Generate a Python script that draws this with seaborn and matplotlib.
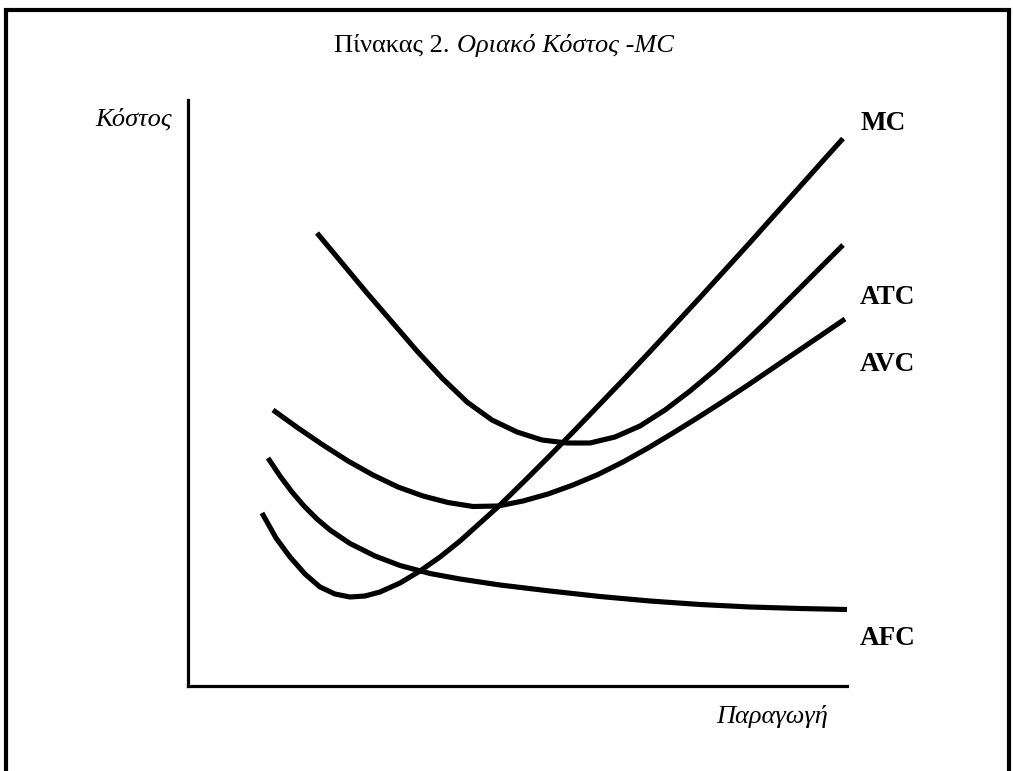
import numpy as np
import pandas as pd
import matplotlib
matplotlib.use("Agg")
import matplotlib.pyplot as plt
import seaborn as sns
from matplotlib.lines import Line2D

# Values (arbitrary units: quantity, cost)
mc_q = [74, 88, 102, 117, 132, 147, 162, 177, 192, 212, 232, 252, 272, 292, 312, 337, 362, 387, 412, 437, 462, 487, 512, 537, 562, 587, 612, 637, 655]
mc_c = [173, 148, 129, 112, 99, 92, 89, 90, 94, 103, 115, 129, 145, 163, 181, 205.5, 230.5, 256, 282, 308, 334.5, 361.5, 388.5, 416, 443.5, 471.5, 499.5, 527.5, 547.5]

atc_q = [129, 154, 179, 204, 229, 254, 279, 304, 329, 354, 379, 402, 427, 452, 477, 502, 527, 552, 577, 602, 627, 655]
atc_c = [453, 423, 393, 364, 335, 308, 284, 266, 254, 246, 243, 243, 249, 260, 276, 295, 316, 339, 363, 388, 413, 441]

avc_q = [85, 110, 135, 160, 185, 210, 235, 260, 285, 310, 335, 360, 385, 410, 435, 460, 485, 510, 535, 560, 585, 610, 635, 657]
avc_c = [276, 258, 241, 225, 211, 199, 190, 183.5, 179.5, 180, 185, 192, 201, 211.5, 224, 238, 253, 268.5, 284.5, 301, 318, 335, 352, 367]

afc_q = [80, 92, 104, 116, 129, 142, 162, 187, 212, 242, 272, 312, 362, 412, 462, 512, 562, 612, 659]
afc_c = [228, 210, 194, 180, 167, 156, 142.5, 130, 120.5, 112.5, 107, 101, 95, 89.5, 85, 81.5, 79, 77.5, 76.5]

curve_names = ["MC", "ATC", "AVC", "AFC"]
label_y = [556, 382, 315, 41]  # label baselines (cost units)

title_plain = "Πίνακας 2. "
title_italic = "Οριακό Κόστος -MC"
ylabel_text = "Κόστος"
xlabel_text = "Παραγωγή"

sns.set_theme(style="white")
plt.rcParams["font.family"] = ["Liberation Serif", "DejaVu Serif"]
plt.rcParams["text.color"] = "black"

W, H = 1013, 771
fig = plt.figure(figsize=(W / 100, H / 100), dpi=100)
fig.patch.set_facecolor("white")

ax_left, ax_right, ax_top, ax_bottom = 188, 847, 100, 686
ax = fig.add_axes([ax_left / W, 1 - ax_bottom / H, (ax_right - ax_left) / W, (ax_bottom - ax_top) / H])
ax.set_facecolor("white")

frames = []
for name, q, c in [("MC", mc_q, mc_c), ("ATC", atc_q, atc_c), ("AVC", avc_q, avc_c), ("AFC", afc_q, afc_c)]:
    frames.append(pd.DataFrame({"q": q, "c": c, "curve": name}))
df = pd.concat(frames, ignore_index=True)

for name in curve_names:
    sub = df[df["curve"] == name]
    sns.lineplot(data=sub, x="q", y="c", sort=False, estimator=None, color="black",
                 linewidth=3.7, ax=ax, solid_capstyle="butt", solid_joinstyle="round")

ax.set_xlim(0, ax_right - ax_left)
ax.set_ylim(0, ax_bottom - ax_top)
ax.set_xticks([])
ax.set_yticks([])
ax.set_xlabel("")
ax.set_ylabel("")
for s in ["top", "right"]:
    ax.spines[s].set_visible(False)
for s in ["left", "bottom"]:
    ax.spines[s].set_visible(True)
    ax.spines[s].set_color("black")
    ax.spines[s].set_linewidth(2.3)

# Curve labels
for name, ly in zip(curve_names, label_y):
    ax.text(672, ly, name, fontsize=19.5, fontweight="bold", color="black",
            ha="left", va="baseline", clip_on=False)

# Axis labels
fig.text(95 / W, 1 - 126 / H, ylabel_text, fontsize=19, fontstyle="italic", ha="left", va="baseline")
fig.text(828 / W, 1 - 723 / H, xlabel_text, fontsize=19, fontstyle="italic", ha="right", va="baseline")

# Title: plain + italic parts, centred together
fig.canvas.draw()
r = fig.canvas.get_renderer()
t1 = fig.text(0, 1 - 52 / H, title_plain, fontsize=19, ha="left", va="baseline")
t2 = fig.text(0, 1 - 52 / H, title_italic, fontsize=19, fontstyle="italic", ha="left", va="baseline")
w1 = t1.get_window_extent(r).width
w2 = t2.get_window_extent(r).width
start = 504 - (w1 + w2) / 2
t1.set_x(start / W)
t2.set_x((start + w1) / W)

# Outer frame (top, left, right)
lw = 3.0
fig.add_artist(Line2D([6 / W, 1009 / W], [1 - 10 / H, 1 - 10 / H], transform=fig.transFigure, color="black", linewidth=lw, solid_capstyle="projecting"))
fig.add_artist(Line2D([6 / W, 6 / W], [0, 1 - 10 / H], transform=fig.transFigure, color="black", linewidth=lw))
fig.add_artist(Line2D([1009 / W, 1009 / W], [0, 1 - 10 / H], transform=fig.transFigure, color="black", linewidth=lw))

fig.savefig("out.png", dpi=100, facecolor="white")
